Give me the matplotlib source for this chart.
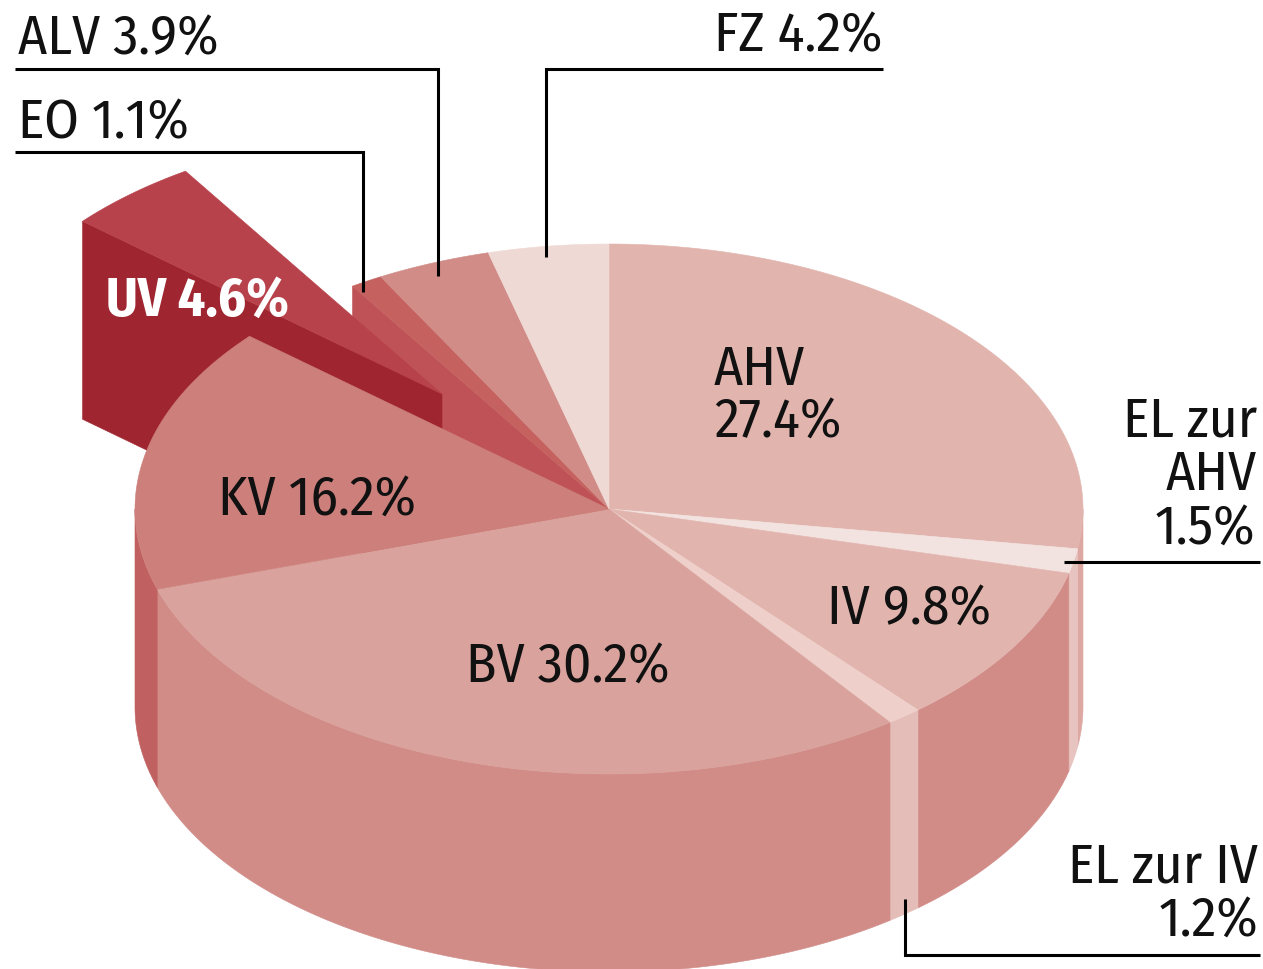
import numpy as np
import matplotlib
matplotlib.use("Agg")
import matplotlib.pyplot as plt
from matplotlib.patches import Polygon

plt.rcParams['font.family'] = ['Fira Sans Condensed', 'Roboto Condensed', 'Liberation Sans Narrow', 'DejaVu Sans']

# shares in percent, clockwise from 12 o'clock
categories = ["AHV", "EL zur AHV", "IV", "EL zur IV", "BV", "KV", "UV", "EO", "ALV", "FZ"]
shares = [27.4, 1.5, 9.8, 1.2, 30.2, 16.2, 4.6, 1.1, 3.9, 4.2]
top_colors = ["#e2b4ae", "#f3e3e0", "#e2b4ae", "#eecfca", "#d9a29c", "#cd807b",
              "#b7424b", "#c5625f", "#d18c87", "#efd9d4"]
side_colors = ["#dda7a2", "#e8c4c0", "#d18c88", "#e4bdb8", "#d18c88", "#c06060",
               "#9f2630", "#bf5256", "#bf5256", "#bf5256"]

# geometry of the projected cake, in pixels
cx, cy = 609, 510
rx, ry = 474, 265
depth = 198
uv_shift = (-167, -115)

fig = plt.figure(figsize=(12.63, 9.7), dpi=100)
ax = fig.add_axes([0, 0, 1, 1])
ax.set_xlim(0, 1263)
ax.set_ylim(970, 0)
ax.axis("off")


def rim(t0, t1, ox=0, oy=0):
    t = np.radians(np.linspace(t0, t1, 120))
    return np.column_stack([cx + ox + rx * np.sin(t), cy + oy - ry * np.cos(t)])


def face(pts, color, z):
    ax.add_patch(Polygon(pts, closed=True, facecolor=color, edgecolor=color, lw=0.4, zorder=z))


ends = np.cumsum(shares) * 3.6
starts = ends - np.array(shares) * 3.6
ends[-1] = 360
idx = {name: i for i, name in enumerate(categories)}

# cut face left open where the UV piece was pulled out
eo_start = rim(starts[idx["EO"]], starts[idx["EO"]] + 0.01)[0]
face([(cx, cy), eo_start, eo_start + (0, depth), (cx, cy + depth)], side_colors[idx["EO"]], 1)

# UV piece: cut face first, then its top
i = idx["UV"]
uv_rim = rim(starts[i], ends[i], *uv_shift)
tip = np.array([cx + uv_shift[0], cy + uv_shift[1]])
face([tip, uv_rim[0], uv_rim[0] + (0, depth), tip + (0, depth)], side_colors[i], 2)
face(np.vstack([[tip], uv_rim]), top_colors[i], 3)

# outer wall of the cake, only the part facing the viewer
for i, name in enumerate(categories):
    if name == "UV":
        continue
    a, b = max(starts[i], 90), min(ends[i], 270)
    if a < b:
        r = rim(a, b)
        face(np.vstack([r, (r + (0, depth))[::-1]]), side_colors[i], 4)

# top faces
for i, name in enumerate(categories):
    if name == "UV":
        continue
    face(np.vstack([[(cx, cy)], rim(starts[i], ends[i])]), top_colors[i], 5)

# leader lines
leaders = [
    ([15, 438, 438], [70, 70, 277]),
    ([15, 363, 363], [153, 153, 293]),
    ([883, 546, 546], [70, 70, 258]),
    ([1064, 1260], [563, 563]),
    ([905, 905, 1260], [900, 956, 956]),
]
for xs, ys in leaders:
    ax.plot(xs, ys, color="black", lw=2.2, solid_joinstyle="miter", solid_capstyle="butt", zorder=6)

# labels
size = 40
labels = [
    ("ALV 3.9%", 18, 55, "left"),
    ("EO 1.1%", 18, 139, "left"),
    ("FZ 4.2%", 883, 52, "right"),
    ("AHV", 714, 385, "left"),
    ("27.4%", 714, 438, "left"),
    ("EL zur", 1257, 437, "right"),
    ("AHV", 1257, 490, "right"),
    ("1.5%", 1255, 545, "right"),
    ("IV 9.8%", 827, 625, "left"),
    ("BV 30.2%", 466, 683, "left"),
    ("KV 16.2%", 218, 516, "left"),
    ("EL zur IV", 1258, 883, "right"),
    ("1.2%", 1258, 937, "right"),
]
for txt, x, y, ha in labels:
    ax.text(x, y, txt, fontsize=size, ha=ha, va="baseline", color="#111111", zorder=7)
ax.text(106, 316, "UV 4.6%", fontsize=size - 1, fontweight="bold", ha="left", va="baseline",
        color="white", zorder=7)

fig.savefig("out.png", dpi=100)
